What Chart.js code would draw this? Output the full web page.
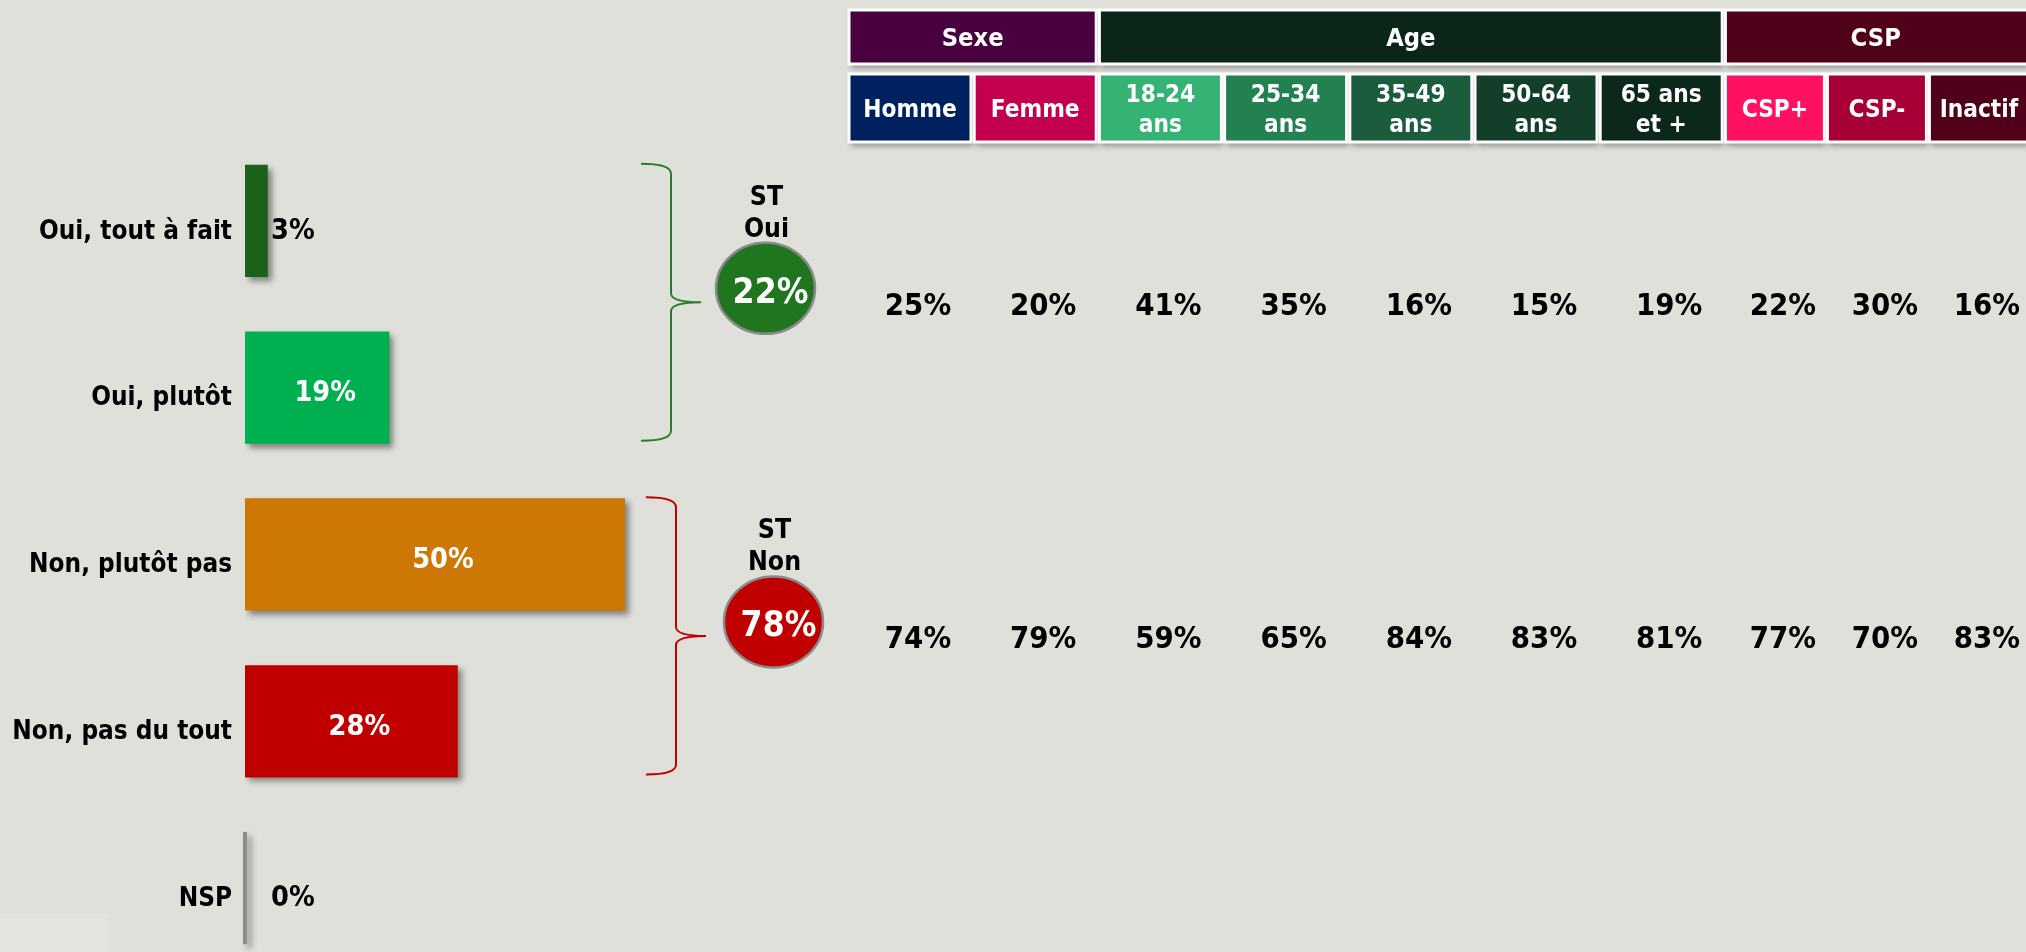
<!DOCTYPE html>
<html><head><meta charset="utf-8">
<script src="https://cdn.jsdelivr.net/npm/chart.js@4.4.1/dist/chart.umd.min.js"></script>
<style>
html,body{margin:0;padding:0;background:#dfe0da;overflow:hidden;width:2026px;height:952px}
#wrap{position:absolute;left:0;top:0;width:2026px;height:1000px}
canvas{display:block}
</style></head><body>
<div id="wrap"><canvas id="c" width="2026" height="1000" style="width:2026px;height:1000px"></canvas></div>
<script>
// ---------- DATA ----------
const categories = ['Oui, tout à fait', 'Oui, plutôt', 'Non, plutôt pas', 'Non, pas du tout', 'NSP'];
const values = [3, 19, 50, 28, 0];
const subtotalLabels = [['ST', 'Oui'], ['ST', 'Non']];
const subtotalValues = [22, 78];
const subtotalMembers = [[0, 1], [2, 3]];
const groupNames = ['Sexe', 'Age', 'CSP'];
const groupSizes = [2, 5, 3];
const subgroupLabels = [['Homme'], ['Femme'], ['18-24', 'ans'], ['25-34', 'ans'], ['35-49', 'ans'],
  ['50-64', 'ans'], ['65 ans', 'et +'], ['CSP+'], ['CSP-'], ['Inactif']];
const stOui = [25, 20, 41, 35, 16, 15, 19, 22, 30, 16];
const stNon = [74, 79, 59, 65, 84, 83, 81, 77, 70, 83];

// ---------- STYLE ----------
function hasFont(name) {
  const c = document.createElement('canvas').getContext('2d');
  const s = 'Oui, tout à fait 0123456789%';
  c.font = 'bold 100px monospace';
  const a = c.measureText(s).width;
  c.font = 'bold 100px "' + name + '", monospace';
  const b = c.measureText(s).width;
  return Math.abs(a - b) > 1;
}
const COND = hasFont('DejaVu Sans Condensed');
const FONT = COND ? '"DejaVu Sans Condensed", "DejaVu Sans", sans-serif' : '"DejaVu Sans", Verdana, sans-serif';
const FS = COND ? 1.1 : 1;
function fs(n) { return Math.round(n * FS * 10) / 10; }

const BG = '#dfe0da';
const barColors = ['#1c611b', '#00b050', '#cd7705', '#c00000', '#8c8c8c'];
const subtotalColors = ['#1f761f', '#c00000'];
const braceColors = ['#2a7d2a', '#c00000'];
const braceX = [[641, 671, 701], [646, 676, 706]];
const circleX = [765.5, 773.5];
const groupColors = ['#48003f', '#0b2619', '#51001a'];
const subgroupColors = ['#00215f', '#c2004f', '#34b374', '#228051', '#1b5c3d', '#133f2a', '#0c281a',
  '#ff1161', '#a60036', '#51001a'];
const HEAD = {left: 849, bigPitch: 125.2, bigW: 122, smallPitch: 102, smallW: 99, bigCount: 7,
  gTop: 10, gH: 54, sTop: 74, sH: 68};

function colX(i) {
  if (i < HEAD.bigCount) return HEAD.left + i * HEAD.bigPitch;
  return HEAD.left + HEAD.bigCount * HEAD.bigPitch + (i - HEAD.bigCount) * HEAD.smallPitch;
}
function colW(i) { return i < HEAD.bigCount ? HEAD.bigW : HEAD.smallW; }

function capText(ctx, text, x, yMid, size, color, align) {
  const s = fs(size);
  ctx.font = 'bold ' + s + 'px ' + FONT;
  ctx.fillStyle = color;
  ctx.textAlign = align || 'center';
  ctx.textBaseline = 'alphabetic';
  ctx.fillText(text, x, yMid + 0.3645 * s);
}

const bgPlugin = {
  id: 'bg',
  beforeDraw(chart) {
    const c = chart.ctx;
    c.save();
    c.fillStyle = BG;
    c.fillRect(0, 0, chart.width, chart.height);
    c.fillStyle = '#e3e4df';
    c.fillRect(0, 914, 109, 60);
    c.restore();
  }
};

const shadowPlugin = {
  id: 'barShadow',
  beforeDatasetsDraw(chart) {
    const c = chart.ctx;
    c.save();
    c.shadowColor = 'rgba(0,0,0,0.42)';
    c.shadowBlur = 6;
    c.shadowOffsetX = 4;
    c.shadowOffsetY = 4;
  },
  afterDatasetsDraw(chart) {
    const c = chart.ctx;
    const bars = chart.getDatasetMeta(0).data;
    bars.forEach((b, i) => {
      if (values[i] === 0) {
        c.fillStyle = barColors[i];
        c.fillRect(b.base - 2, b.y - b.height / 2, 4, b.height);
      }
    });
    c.restore();
    bars.forEach((b, i) => {
      const v = values[i];
      const txt = v + '%';
      if (v >= 10) {
        capText(c, txt, (b.base + b.x) / 2 + 8, b.y + 3, 26, '#ffffff', 'center');
      } else {
        capText(c, txt, Math.max(b.x, b.base + 26), b.y + 8, 26, '#000000', 'left');
      }
    });
  }
};

function drawBrace(c, xs, yTop, yTip, yBot, color) {
  const [xl, xm, xt] = xs;
  c.save();
  c.strokeStyle = color;
  c.lineWidth = 2;
  c.beginPath();
  c.moveTo(xl, yTop);
  c.quadraticCurveTo(xm, yTop, xm, yTop + 10);
  c.lineTo(xm, yTip - 9);
  c.quadraticCurveTo(xm, yTip, xt, yTip);
  c.quadraticCurveTo(xm, yTip, xm, yTip + 9);
  c.lineTo(xm, yBot - 10);
  c.quadraticCurveTo(xm, yBot, xl, yBot);
  c.stroke();
  c.restore();
}

const decorPlugin = {
  id: 'decor',
  afterDraw(chart) {
    const c = chart.ctx;
    const bars = chart.getDatasetMeta(0).data;
    const mids = [];
    subtotalMembers.forEach((m, g) => {
      const a = bars[m[0]], b = bars[m[m.length - 1]];
      const top = a.y - a.height / 2, bot = b.y + b.height / 2;
      const mid = (a.y + b.y) / 2;
      mids.push(mid);
      drawBrace(c, braceX[g], top - 1, mid - 2, bot - 3, braceColors[g]);
      const cx = circleX[g], cy = mid - 16;
      c.save();
      c.beginPath();
      c.ellipse(cx, cy, 49.5, 45.5, 0, 0, Math.PI * 2);
      c.fillStyle = subtotalColors[g];
      c.fill();
      c.lineWidth = 2.5;
      c.strokeStyle = '#8a8a8a';
      c.stroke();
      c.restore();
      capText(c, subtotalValues[g] + '%', cx + 5, cy + 1.5, 32, '#ffffff', 'center');
      capText(c, subtotalLabels[g][0], cx + 1, cy - 93, 24, '#000000', 'center');
      capText(c, subtotalLabels[g][1], cx + 1, cy - 61, 24, '#000000', 'center');
    });

    let col = 0;
    groupNames.forEach((name, g) => {
      const x0 = colX(col);
      const last = col + groupSizes[g] - 1;
      const x1 = colX(last) + colW(last);
      c.save();
      c.shadowColor = 'rgba(0,0,0,0.35)';
      c.shadowBlur = 6; c.shadowOffsetX = 2; c.shadowOffsetY = 4;
      c.fillStyle = groupColors[g];
      c.fillRect(x0, HEAD.gTop, x1 - x0, HEAD.gH);
      c.restore();
      c.save();
      c.strokeStyle = '#ffffff'; c.lineWidth = 3;
      c.strokeRect(x0, HEAD.gTop, x1 - x0, HEAD.gH);
      c.restore();
      capText(c, name, (x0 + Math.min(x1, chart.width)) / 2, HEAD.gTop + 27, 23, '#ffffff', 'center');
      col += groupSizes[g];
    });
    subgroupLabels.forEach((lines, i) => {
      const x0 = colX(i), w = colW(i);
      c.save();
      c.shadowColor = 'rgba(0,0,0,0.35)';
      c.shadowBlur = 6; c.shadowOffsetX = 2; c.shadowOffsetY = 4;
      c.fillStyle = subgroupColors[i];
      c.fillRect(x0, HEAD.sTop, w, HEAD.sH);
      c.restore();
      c.save();
      c.strokeStyle = '#ffffff'; c.lineWidth = 3;
      c.strokeRect(x0, HEAD.sTop, w, HEAD.sH);
      c.restore();
      const cx = x0 + w / 2;
      if (lines.length === 1) {
        capText(c, lines[0], cx, HEAD.sTop + 34, 22, '#ffffff', 'center');
      } else {
        capText(c, lines[0], cx, HEAD.sTop + 19, 22, '#ffffff', 'center');
        capText(c, lines[1], cx, HEAD.sTop + 49, 22, '#ffffff', 'center');
      }
    });
    [stOui, stNon].forEach((row, r) => {
      row.forEach((v, i) => {
        capText(c, v + '%', colX(i) + colW(i) / 2 + 8, mids[r] - 1, 28, '#000000', 'center');
      });
    });
  }
};

new Chart(document.getElementById('c').getContext('2d'), {
  type: 'bar',
  data: {
    labels: categories,
    datasets: [{
      data: values,
      backgroundColor: barColors,
      borderWidth: 0,
      barPercentage: 0.673,
      categoryPercentage: 1
    }]
  },
  options: {
    indexAxis: 'y',
    responsive: false,
    animation: false,
    devicePixelRatio: 1,
    layout: {padding: {top: 137.5, bottom: 20.8, left: 0, right: 1021}},
    plugins: {legend: {display: false}, tooltip: {enabled: false}},
    scales: {
      x: {display: false, min: 0, max: 100},
      y: {
        afterFit(s) { s.width = 245; },
        grid: {display: false, drawTicks: false},
        border: {display: false},
        ticks: {padding: 13, labelOffset: 11, color: '#000000',
          font: {family: FONT, size: fs(23.5), weight: 'bold'}}
      }
    }
  },
  plugins: [bgPlugin, shadowPlugin, decorPlugin]
});
</script>
</body></html>
